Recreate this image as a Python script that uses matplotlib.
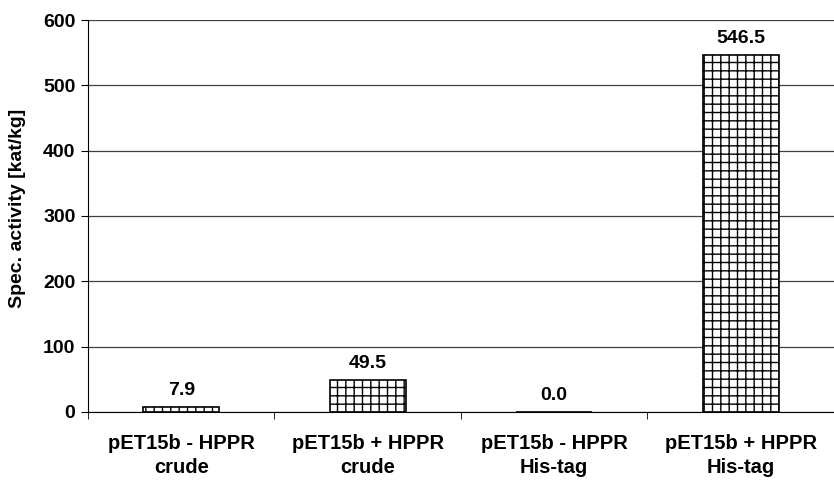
import matplotlib
matplotlib.use("Agg")
import matplotlib.pyplot as plt
import numpy as np

categories = ["pET15b - HPPR\ncrude", "pET15b + HPPR\ncrude", "pET15b - HPPR\nHis-tag", "pET15b + HPPR\nHis-tag"]
values = [7.9, 49.5, 0.0, 546.5]
yticks = [0, 100, 200, 300, 400, 500, 600]

plt.rcParams['font.family'] = ['Liberation Sans', 'DejaVu Sans']
plt.rcParams['font.weight'] = 'bold'
plt.rcParams['hatch.linewidth'] = 1.0

FS = 14

fig = plt.figure(figsize=(8.34, 4.8), dpi=100)
ax = fig.add_axes([0.1055, 0.1417, 0.8945, 0.8166])

x = np.arange(len(categories))
bars = ax.bar(x, values, width=0.41, color='white', edgecolor='black', hatch='++', linewidth=1.2, zorder=3)
for xi, v in zip(x, values):
    ax.text(xi, v + 12, f"{v:.1f}", ha='center', va='bottom', fontsize=FS, fontweight='bold')

ax.set_xlim(-0.5, 3.5)
ax.set_ylim(0, 600)
ax.set_yticks(yticks)
ax.set_yticklabels([str(t) for t in yticks], fontsize=FS, fontweight='bold')
ax.yaxis.grid(True, color='#404040', linewidth=0.9, zorder=0)
ax.set_axisbelow(True)

ax.set_xticks(x)
ax.set_xticklabels(categories, fontsize=14.5, fontweight='bold', linespacing=1.3)
ax.tick_params(axis='x', length=0, pad=16)
ax.set_xticks(np.arange(-0.5, 4.0, 1.0), minor=True)
ax.tick_params(axis='x', which='minor', length=5, direction='out', color='black')
ax.tick_params(axis='y', length=5, direction='out', pad=4)

for s in ['top', 'right']:
    ax.spines[s].set_visible(False)
ax.spines['left'].set_color('black')
ax.spines['bottom'].set_color('black')

ax.set_ylabel("Spec. activity [kat/kg]", fontsize=14, fontweight='bold')
ax.yaxis.set_label_coords(-0.083, 0.52)

fig.savefig("out.png", dpi=100)
